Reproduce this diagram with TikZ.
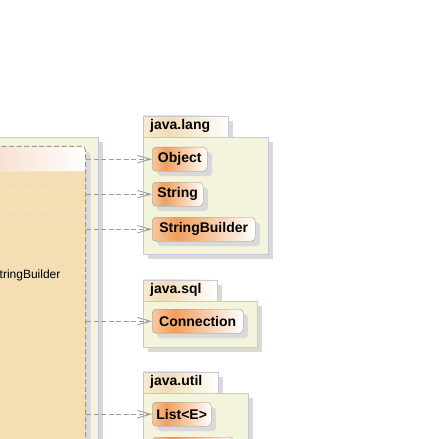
\documentclass[tikz,border=0pt]{standalone}
\usepackage{fontspec}
\setmainfont{Liberation Sans}
\usepackage{tikz}
\usetikzlibrary{arrows.meta}
\usetikzlibrary{shadows,positioning}
\definecolor{pkgfill}{HTML}{F4F3DB}
\definecolor{pkgline}{HTML}{C4C8DA}
\definecolor{shadowgray}{HTML}{D9D9D9}
\definecolor{clsline}{HTML}{9A9A9A}
\definecolor{clslight}{HTML}{F8C9A0}
\definecolor{clsdark}{HTML}{F09F5C}
\definecolor{tablight}{HTML}{F8EAD2}
\definecolor{tabdark}{HTML}{F3DCB4}
\definecolor{rowtan}{HTML}{F5DEB4}
\definecolor{rowline}{HTML}{F0E7D8}
\definecolor{hdrpeach}{HTML}{F8DAC6}
\definecolor{depgray}{HTML}{9C9C9C}
\pgfdeclarehorizontalshading{clsshading}{100bp}{color(0bp)=(clslight); color(25bp)=(clslight); color(37bp)=(clsdark); color(75bp)=(white); color(100bp)=(white)}
\pgfdeclarehorizontalshading{tabshading}{100bp}{color(0bp)=(tablight); color(25bp)=(tablight); color(40bp)=(tabdark); color(75bp)=(white); color(100bp)=(white)}
\tikzset{
  boxshadow/.style={drop shadow={shadow xshift=5pt, shadow yshift=-5pt, fill=shadowgray, opacity=1}},
  pkgbody/.style={draw=pkgline, fill=pkgfill, boxshadow, inner sep=0pt, anchor=north west},
  pkgtab/.style={draw=pkgline, shade, shading=tabshading, boxshadow, anchor=south west,
    font=\bfseries\fontsize{14}{16}\selectfont, minimum height=21pt, inner xsep=7pt, inner ysep=0pt,
    align=left, text width=#1},
  clsbox/.style={draw=clsline, rounded corners=4pt, shade, shading=clsshading, boxshadow,
    font=\bfseries\fontsize{14}{16}\selectfont, minimum height=24pt, inner sep=0pt, anchor=north west},
  clsdash/.style={dash pattern=on 5pt off 2.5pt},
  deparrow/.style={draw=depgray, line width=0.9pt, clsdash, -{Straight Barb[length=13pt, width=7.5pt]}}
}

\begin{document}
\begin{tikzpicture}[x=1pt, y=-1pt]
\clip (0,0) rectangle (443,438);
\node[pkgbody, minimum width=120pt, minimum height=320pt, anchor=north east] (leftpkg) at (98,137) {};
\node[draw=clsline, clsdash, line width=0.9pt, rounded corners=4pt, fill=rowtan, boxshadow,
  minimum width=110pt, minimum height=310pt, anchor=north east, inner sep=0pt,
  path picture={
    \shade[left color=hdrpeach, right color=white] (path picture bounding box.north west)
      rectangle ([yshift=-25pt]path picture bounding box.north east);
    \foreach \dy in {25,44,63} {
      \draw[rowline, line width=1pt] ([yshift=-\dy pt]path picture bounding box.north west)
        -- ([yshift=-\dy pt]path picture bounding box.north east);
    }
  }] (sbcls) at (86,146) {};
\node[anchor=base west, inner sep=0pt, font=\fontsize{12}{14}\selectfont] (sbname) at (-0.5,278) {tringBuilder};

\node[pkgtab=71pt] (langtab) at (143,137) {java.lang};
\node[pkgbody, minimum width=125pt, minimum height=117pt] (lang) at (143,137) {};
\node[clsbox, minimum width=55pt] (obj) at (152,147) {Object};
\node[clsbox, minimum width=51pt] (str) at (152,182) {String};
\node[clsbox, minimum width=103pt] (strb) at (152,217) {StringBuilder};

\node[pkgtab=60pt] (sqltab) at (143,301) {java.sql};
\node[pkgbody, minimum width=114pt, minimum height=46pt] (sql) at (143,301) {};
\node[clsbox, minimum width=91pt] (conn) at (152,309) {Connection};

\node[pkgtab=61pt] (utiltab) at (143,393) {java.util};
\node[pkgbody, minimum width=105pt, minimum height=70pt] (util) at (143,393) {};
\node[clsbox, minimum width=59pt] (list) at (152,402) {List<E>};
\node[clsbox, minimum width=81pt] (nextcls) at (152,437) {};

\foreach \t in {obj,str,strb,conn,list} {
  \draw[deparrow] (sbcls.east |- \t.west) -- (\t.west);
}
\end{tikzpicture}
\end{document}
